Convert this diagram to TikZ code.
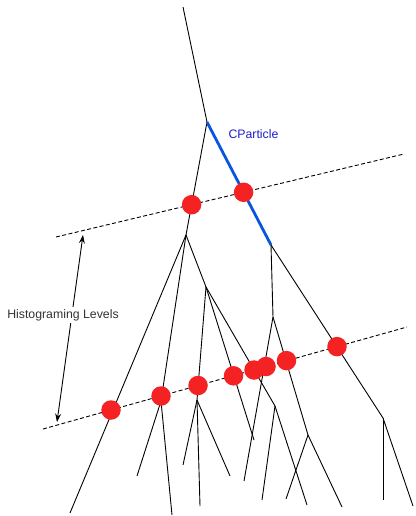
\documentclass[tikz,border=0pt]{standalone}
\usepackage{fontspec}
\setmainfont{Liberation Sans}
\usepackage{xcolor}
\usepackage{tikz}
\usetikzlibrary{arrows.meta}
\definecolor{DotRed}{HTML}{F42222}
\definecolor{PartBlue}{HTML}{0A55E0}
\definecolor{LabelBlue}{HTML}{2020C8}
\definecolor{LabelGray}{HTML}{333333}
\tikzset{
  branch/.style={line width=0.9pt,draw=black},
  particle/.style={line width=2.8pt,draw=PartBlue},
  level/.style={line width=0.9pt,dash pattern=on 4pt off 2.4pt},
  hit/.style={circle,fill=DotRed,inner sep=0pt,minimum size=19.5pt},
  span/.style={{Stealth[length=8.5pt,width=6pt,inset=3pt]}-{Stealth[length=8.5pt,width=6pt,inset=3pt]},line width=0.9pt},
  lbl/.style={font=\fontsize{12.3}{14}\selectfont,inner sep=1pt}
}
\begin{document}
\begin{tikzpicture}[x=1pt,y=-1pt]
  \useasboundingbox (0,0) rectangle (415,516);

  % tree points
  \coordinate (top) at (183,7);
  \coordinate (split) at (207,122);
  \coordinate (pend) at (271,245);
  \coordinate (ja) at (186,235);
  \coordinate (jb) at (206,287);
  \coordinate (jc) at (161,401);
  \coordinate (jd) at (197,400);
  \coordinate (je) at (275,406);
  \coordinate (jf) at (273,317);
  \coordinate (jg) at (308,435);
  \coordinate (jh) at (383,418);
  % leaves
  \coordinate (la) at (70,513);
  \coordinate (lb) at (137,476);
  \coordinate (lc) at (172,515);
  \coordinate (ld) at (183,465);
  \coordinate (le) at (200,506);
  \coordinate (lf) at (230,476);
  \coordinate (lg) at (254,440);
  \coordinate (lh) at (262,500);
  \coordinate (li) at (307,505);
  \coordinate (lj) at (244,481);
  \coordinate (lk) at (286,499);
  \coordinate (ll) at (342,507);
  \coordinate (lm) at (383,500);
  \coordinate (ln) at (413,506);

  % histograming levels
  \coordinate (upA) at (56,237);
  \coordinate (upB) at (404,154);
  \coordinate (loA) at (43,429);
  \coordinate (loB) at (407,327);
  \draw[level] (upA) -- (upB);
  \draw[level] (loA) -- (loB);

  % branches
  \draw[branch] (top) -- (split) -- (ja);
  \draw[particle] (split) -- (pend);
  \draw[branch] (ja) -- (la);
  \draw[branch] (ja) -- (jc);
  \draw[branch] (ja) -- (jb);
  \draw[branch] (jc) -- (lb);
  \draw[branch] (jc) -- (lc);
  \draw[branch] (jb) -- (jd);
  \draw[branch] (jb) -- (lg);
  \draw[branch] (jb) -- (je);
  \draw[branch] (jd) -- (ld);
  \draw[branch] (jd) -- (le);
  \draw[branch] (jd) -- (lf);
  \draw[branch] (je) -- (lh);
  \draw[branch] (je) -- (li);
  \draw[branch] (pend) -- (jf);
  \draw[branch] (pend) -- (jh);
  \draw[branch] (jf) -- (lj);
  \draw[branch] (jf) -- (jg);
  \draw[branch] (jg) -- (lk);
  \draw[branch] (jg) -- (ll);
  \draw[branch] (jh) -- (lm);
  \draw[branch] (jh) -- (ln);

  % crossings
  \node[hit] (hu1) at (191.6,204.7) {};
  \node[hit] (hu2) at (243.6,192.3) {};
  \node[hit] (hl1) at (111,410) {};
  \node[hit] (hl2) at (161,396) {};
  \node[hit] (hl3) at (198,385.5) {};
  \node[hit] (hl4) at (233.5,375.8) {};
  \node[hit] (hl5) at (254,370) {};
  \node[hit] (hl6) at (266,366.5) {};
  \node[hit] (hl7) at (286.5,360.6) {};
  \node[hit] (hl8) at (337,346.6) {};

  % labels
  \node[lbl,text=LabelBlue,anchor=base] (cpart) at (253.5,139) {CParticle};
  \coordinate (arrTop) at (83,235);
  \coordinate (arrBot) at (57,422);
  \draw[span] (arrBot) -- (arrTop);
  \node[lbl,text=LabelGray,fill=white,anchor=base,inner sep=2pt] (levels) at (63,318) {Histograming Levels};
\end{tikzpicture}
\end{document}
